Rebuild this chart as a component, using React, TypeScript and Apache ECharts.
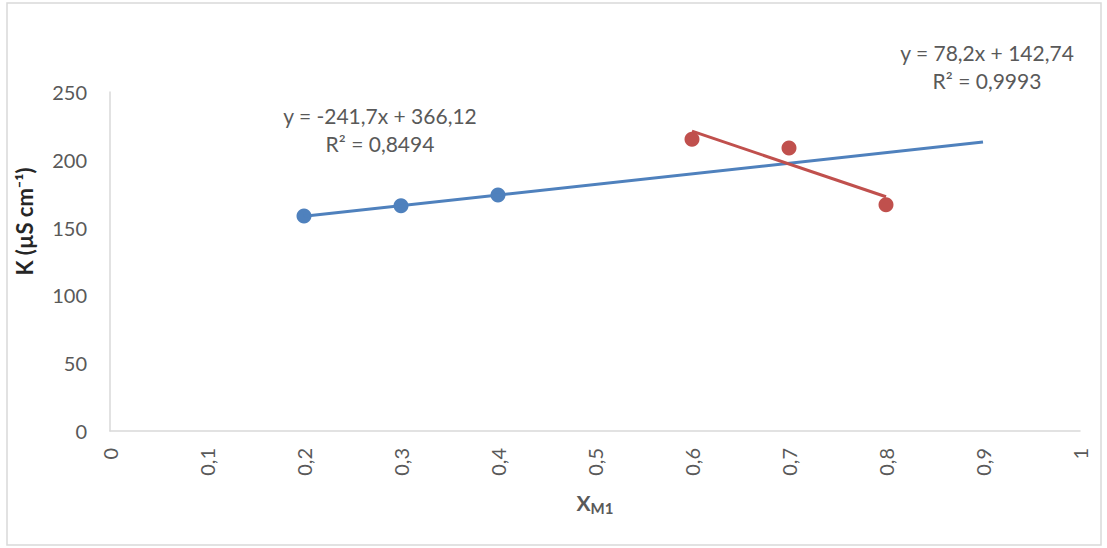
import React, { useEffect, useRef } from "react";
import * as echarts from "echarts";

// Mole fraction X_M1 and conductivity K (µS cm⁻¹)
const xBlue = [0.2, 0.3, 0.4];
const kBlue = [158.5, 166.1, 174.1];
const xRed = [0.6, 0.7, 0.8];
const kRed = [215.2, 208.7, 166.9];

// Linear trendlines: slope, intercept, drawn range
const blueFit = { slope: 78.2, intercept: 142.74, from: 0.2, to: 0.9 };
const redFit = { slope: -241.7, intercept: 366.12, from: 0.6, to: 0.8 };

const eqLabelA = ["y = -241,7x + 366,12", "R² = 0,8494"];
const eqLabelB = ["y = 78,2x + 142,74", "R² = 0,9993"];

const BLUE = "#4F81BD";
const RED = "#C0504D";
const TEXT = "#595959";
const FONT = "Lato";

const fitLine = (f: { slope: number; intercept: number; from: number; to: number }) => [
  [f.from, f.slope * f.from + f.intercept],
  [f.to, f.slope * f.to + f.intercept],
];

const comma = (v: number) => String(Math.round(v * 10) / 10).replace(".", ",");

export default function App() {
  const ref = useRef<HTMLDivElement>(null);

  useEffect(() => {
    document.body.style.margin = "0";
    const chart = echarts.init(ref.current!, null, { renderer: "svg" });
    chart.setOption({
      animation: false,
      backgroundColor: "#fff",
      grid: { left: 110, right: 27, top: 92, bottom: 117 },
      xAxis: {
        type: "value",
        min: 0,
        max: 1,
        interval: 0.1,
        splitLine: { show: false },
        axisTick: { show: false },
        axisLine: { show: true, lineStyle: { color: "#D9D9D9", width: 1.5 } },
        axisLabel: {
          rotate: 90,
          margin: 17,
          color: TEXT,
          fontFamily: FONT,
          fontSize: 20,
          formatter: comma,
        },
        name: "{x|X}{s|M1}",
        nameLocation: "middle",
        nameGap: 58,
        nameTextStyle: {
          rich: {
            x: { fontFamily: FONT, fontSize: 21, fontWeight: "bold", color: TEXT },
            s: { fontFamily: FONT, fontSize: 15, fontWeight: "bold", color: TEXT, padding: [11, 0, 0, 0] },
          },
        },
      },
      yAxis: {
        type: "value",
        min: 0,
        max: 250,
        interval: 50,
        splitLine: { show: false },
        axisTick: { show: false },
        axisLine: { show: true, lineStyle: { color: "#D9D9D9", width: 1.5 } },
        axisLabel: { margin: 23, color: TEXT, fontFamily: FONT, fontSize: 20 },
        name: "K (µS cm⁻¹)",
        nameLocation: "middle",
        nameGap: 75,
        nameTextStyle: {
          fontFamily: FONT,
          fontSize: 22,
          fontWeight: "bold",
          color: "#262626",
          padding: [0, 0, 0, 80],
        },
      },
      series: [
        {
          type: "scatter",
          data: xBlue.map((x, i) => [x, kBlue[i]]),
          symbolSize: 15,
          itemStyle: { color: BLUE, opacity: 1 },
          z: 2,
        },
        {
          type: "scatter",
          data: xRed.map((x, i) => [x, kRed[i]]),
          symbolSize: 15,
          itemStyle: { color: RED, opacity: 1 },
          z: 2,
        },
        {
          type: "line",
          data: fitLine(blueFit),
          showSymbol: false,
          lineStyle: { color: BLUE, width: 3 },
          z: 3,
        },
        {
          type: "line",
          data: fitLine(redFit),
          showSymbol: false,
          lineStyle: { color: RED, width: 3 },
          z: 3,
        },
      ],
      graphic: [
        {
          type: "rect",
          shape: { x: 7, y: 3, width: 1094, height: 542 },
          style: { fill: "none", stroke: "#D9D9D9", lineWidth: 1.5 },
          silent: true,
        },
        {
          type: "text",
          x: 380,
          y: 101,
          style: {
            text: eqLabelA.join("\n"),
            align: "center",
            fill: TEXT,
            font: `21px ${FONT}`,
            lineHeight: 28,
          },
        },
        {
          type: "text",
          x: 987,
          y: 38,
          style: {
            text: eqLabelB.join("\n"),
            align: "center",
            fill: TEXT,
            font: `21px ${FONT}`,
            lineHeight: 28,
          },
        },
      ],
    });
    return () => chart.dispose();
  }, []);

  return <div ref={ref} style={{ width: 1107, height: 548 }} />;
}
